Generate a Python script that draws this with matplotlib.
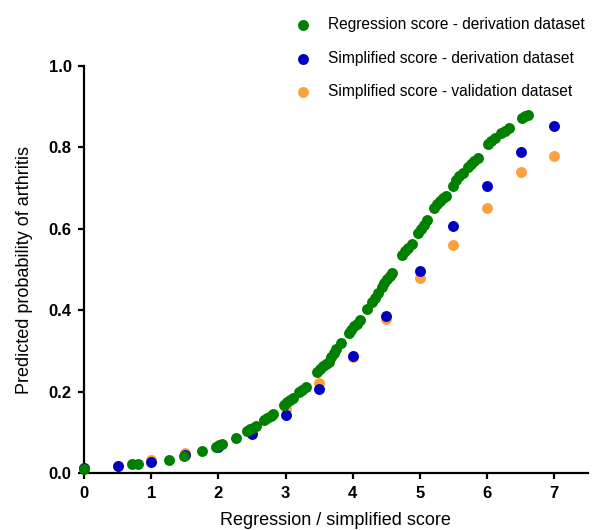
import numpy as np
import matplotlib
matplotlib.use('Agg')
import matplotlib.pyplot as plt

plt.rcParams['font.family'] = ['Liberation Sans', 'DejaVu Sans']

# regression score - derivation dataset
reg_x = [0.0, 0.72, 0.80, 1.27, 1.49, 1.76, 1.97, 2.01, 2.05, 2.27,
         2.42, 2.47, 2.52, 2.56, 2.68, 2.73, 2.78, 2.82, 2.98, 3.02,
         3.06, 3.11, 3.20, 3.25, 3.30, 3.47, 3.51, 3.56, 3.60, 3.64,
         3.68, 3.72, 3.75, 3.83, 3.94, 3.98, 4.02, 4.06, 4.11, 4.22,
         4.28, 4.33, 4.38, 4.43, 4.47, 4.51, 4.55, 4.59, 4.74, 4.78,
         4.83, 4.88, 4.97, 5.02, 5.06, 5.10, 5.21, 5.26, 5.30, 5.35,
         5.39, 5.49, 5.54, 5.59, 5.64, 5.71, 5.76, 5.81, 5.86, 6.01,
         6.06, 6.12, 6.21, 6.26, 6.32, 6.52, 6.57, 6.61]
reg_y = [0.009, 0.021, 0.022, 0.033, 0.041, 0.054, 0.065, 0.068, 0.071, 0.087,
         0.103, 0.107, 0.111, 0.115, 0.130, 0.136, 0.141, 0.146, 0.168, 0.174,
         0.179, 0.185, 0.199, 0.205, 0.211, 0.249, 0.256, 0.262, 0.268, 0.273,
         0.285, 0.295, 0.305, 0.319, 0.344, 0.352, 0.360, 0.367, 0.376, 0.403,
         0.421, 0.431, 0.442, 0.458, 0.468, 0.476, 0.484, 0.491, 0.536, 0.545,
         0.554, 0.563, 0.590, 0.600, 0.610, 0.622, 0.651, 0.660, 0.668, 0.675,
         0.681, 0.705, 0.720, 0.729, 0.737, 0.753, 0.760, 0.767, 0.774, 0.808,
         0.815, 0.823, 0.835, 0.841, 0.848, 0.872, 0.876, 0.880]

simp_x = [0, 0.5, 1, 1.5, 2, 2.5, 3, 3.5, 4, 4.5, 5, 5.5, 6, 6.5, 7]
simp_deriv = [0.012, 0.018, 0.028, 0.045, 0.065, 0.097, 0.143, 0.206, 0.287,
              0.387, 0.497, 0.606, 0.705, 0.789, 0.853]
simp_valid = [0.012, 0.018, 0.031, 0.050, 0.066, 0.100, 0.158, 0.221, 0.285,
              0.378, 0.479, 0.560, 0.650, 0.740, 0.780]

green = '#008000'
blue = '#0000C0'
orange = '#FFA040'

fig = plt.figure(figsize=(5.92, 5.30), dpi=100)
ax = fig.add_axes([0.1419, 0.1075, 0.851, 0.768])

ms = 62
ax.scatter(simp_x, simp_valid, s=ms, c=orange, linewidths=0, clip_on=False, zorder=3,
           label='Simplified score - validation dataset')
ax.scatter(simp_x, simp_deriv, s=ms, c=blue, linewidths=0, clip_on=False, zorder=4,
           label='Simplified score - derivation dataset')
ax.scatter(reg_x, reg_y, s=ms, c=green, linewidths=0, clip_on=False, zorder=5,
           label='Regression score - derivation dataset')

ax.set_xlim(0, 7.5)
ax.set_ylim(0, 1.0)
ax.set_xticks(range(8))
ax.set_yticks([0.0, 0.2, 0.4, 0.6, 0.8, 1.0])
ax.set_yticklabels(['0.0', '0.2', '0.4', '0.6', '0.8', '1.0'])

for s in ['top', 'right']:
    ax.spines[s].set_visible(False)
for s in ['left', 'bottom']:
    ax.spines[s].set_linewidth(1.6)
ax.tick_params(direction='out', length=4, width=1.6, labelsize=12, pad=5)
for lab in ax.get_xticklabels() + ax.get_yticklabels():
    lab.set_fontweight('bold')

ax.set_xlabel('Regression / simplified score', fontsize=13, labelpad=8)
ax.set_ylabel('Predicted probability of arthritis', fontsize=13, labelpad=11)

h, l = ax.get_legend_handles_labels()
fig.legend(h[::-1], l[::-1], loc='upper left', bbox_to_anchor=(0.499, 0.968),
           frameon=False, fontsize=11.2, borderpad=0, handlelength=1.0,
           handletextpad=1.1, labelspacing=1.2, borderaxespad=0,
           scatterpoints=1, markerscale=1.0)

plt.savefig('out.png', dpi=100)
plt.close()
